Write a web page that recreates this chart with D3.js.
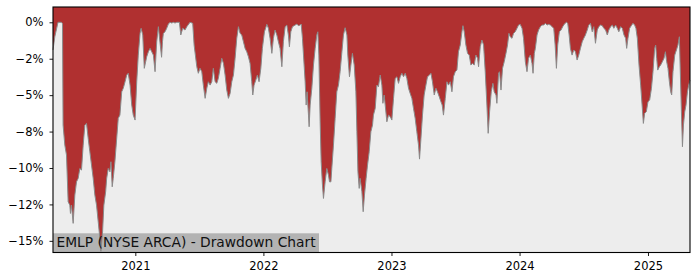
<!DOCTYPE html>
<html>
<head>
<meta charset="utf-8">
<script src="https://cdn.jsdelivr.net/npm/d3@7"></script>
<style>
	body { margin: 0; background: #fff; }
	svg { display: block; font-family: "DejaVu Sans", sans-serif; }
</style>
</head>
<body>
<div id="chart"></div>
<script>
// drawdown in percent, dates as decimal years
var dateYears = [
	2020.359, 2020.373, 2020.398, 2020.425, 2020.433, 2020.4375, 2020.451, 2020.464, 2020.477, 2020.490,
	2020.495, 2020.503, 2020.516, 2020.529, 2020.542, 2020.555, 2020.568, 2020.581, 2020.594, 2020.607,
	2020.620, 2020.633, 2020.646, 2020.659, 2020.672, 2020.685, 2020.698, 2020.711, 2020.724, 2020.732,
	2020.745, 2020.755, 2020.769, 2020.777, 2020.789, 2020.802, 2020.810, 2020.820, 2020.828, 2020.841,
	2020.855, 2020.867, 2020.880, 2020.894, 2020.906, 2020.920, 2020.933, 2020.945, 2020.959, 2020.972,
	2020.984, 2020.998, 2021.011, 2021.023, 2021.037, 2021.045, 2021.058, 2021.070, 2021.089, 2021.102,
	2021.115, 2021.128, 2021.141, 2021.154, 2021.167, 2021.180, 2021.188, 2021.205, 2021.212, 2021.219,
	2021.232, 2021.245, 2021.258, 2021.271, 2021.284, 2021.297, 2021.310, 2021.323, 2021.344, 2021.355,
	2021.370, 2021.388, 2021.402, 2021.427, 2021.448, 2021.459, 2021.480, 2021.492, 2021.505, 2021.519,
	2021.531, 2021.545, 2021.558, 2021.570, 2021.584, 2021.597,
	2021.609, 2021.623, 2021.636, 2021.648, 2021.662, 2021.675, 2021.688, 2021.701, 2021.714, 2021.727,
	2021.740, 2021.753, 2021.766, 2021.779, 2021.792, 2021.805, 2021.818, 2021.831, 2021.844, 2021.857,
	2021.870, 2021.883, 2021.896, 2021.909, 2021.917, 2021.927, 2021.941, 2021.953, 2021.966, 2021.980,
	2021.992, 2022.008, 2022.027, 2022.039, 2022.052, 2022.066, 2022.078, 2022.091, 2022.105, 2022.117,
	2022.130, 2022.144, 2022.156, 2022.170, 2022.183, 2022.195, 2022.203, 2022.214, 2022.227, 2022.248,
	2022.261, 2022.273, 2022.287, 2022.295, 2022.305, 2022.313, 2022.326, 2022.334, 2022.341, 2022.352,
	2022.357, 2022.365, 2022.378, 2022.391, 2022.404, 2022.417, 2022.425, 2022.433, 2022.443, 2022.451,
	2022.461, 2022.469, 2022.482, 2022.495, 2022.508, 2022.516, 2022.527, 2022.534, 2022.547, 2022.560,
	2022.573, 2022.586, 2022.599, 2022.613, 2022.625, 2022.638, 2022.652, 2022.659, 2022.672, 2022.683,
	2022.695, 2022.709, 2022.722, 2022.730, 2022.738, 2022.748, 2022.755, 2022.769, 2022.779, 2022.789,
	2022.802, 2022.813, 2022.826, 2022.839, 2022.852, 2022.859, 2022.873,
	2022.886, 2022.898, 2022.912, 2022.925, 2022.933, 2022.943, 2022.951, 2022.964, 2022.977, 2022.990,
	2023.003, 2023.016, 2023.029, 2023.042, 2023.055, 2023.068, 2023.081, 2023.094, 2023.107, 2023.120,
	2023.133, 2023.146, 2023.159, 2023.172, 2023.185, 2023.198, 2023.211, 2023.219, 2023.230, 2023.242,
	2023.255, 2023.269, 2023.281, 2023.297, 2023.308, 2023.320, 2023.334, 2023.347, 2023.359, 2023.373,
	2023.386, 2023.396, 2023.406, 2023.420, 2023.433, 2023.445, 2023.459, 2023.472, 2023.484, 2023.498,
	2023.511, 2023.523, 2023.537, 2023.550, 2023.558, 2023.568, 2023.581, 2023.594, 2023.607, 2023.620,
	2023.633, 2023.646, 2023.659, 2023.672, 2023.680, 2023.693, 2023.706, 2023.719, 2023.732, 2023.745,
	2023.755, 2023.766, 2023.779, 2023.792, 2023.802, 2023.816, 2023.823, 2023.836, 2023.844, 2023.855,
	2023.867, 2023.880, 2023.894, 2023.906, 2023.917, 2023.927, 2023.941, 2023.953, 2023.966, 2023.980,
	2023.992, 2024.005, 2024.019, 2024.031, 2024.045, 2024.058, 2024.070, 2024.084, 2024.097, 2024.105,
	2024.115,
	2024.123, 2024.136, 2024.148, 2024.162, 2024.175, 2024.188, 2024.201, 2024.214, 2024.227, 2024.240,
	2024.253, 2024.266, 2024.277, 2024.287, 2024.297, 2024.310, 2024.323, 2024.336, 2024.349, 2024.365,
	2024.375, 2024.386, 2024.396, 2024.409, 2024.422, 2024.435, 2024.448, 2024.461, 2024.474, 2024.488,
	2024.500, 2024.513, 2024.527, 2024.539, 2024.552, 2024.566, 2024.578, 2024.591, 2024.605, 2024.617,
	2024.630, 2024.644, 2024.656, 2024.670, 2024.683, 2024.695, 2024.709, 2024.722, 2024.734, 2024.748,
	2024.761, 2024.773, 2024.787, 2024.800, 2024.813, 2024.826, 2024.834, 2024.844, 2024.857, 2024.870,
	2024.883, 2024.896, 2024.906, 2024.917, 2024.930, 2024.943, 2024.956, 2024.964, 2024.974, 2024.987,
	2025.000, 2025.013, 2025.027, 2025.039, 2025.052, 2025.060, 2025.068, 2025.076, 2025.089, 2025.099,
	2025.112, 2025.125, 2025.136, 2025.146, 2025.156, 2025.167, 2025.177, 2025.185, 2025.195, 2025.209,
	2025.222, 2025.234, 2025.245, 2025.253, 2025.261, 2025.269, 2025.277, 2025.287, 2025.297, 2025.308,
	2025.318, 2025.328
]

var drawdown = [
	-1.90, -0.99, 0, 0, -0.10, -7.05, -8.43, -9.11, -12.32, -12.55,
	-13.12, -12.55, -13.80, -11.86, -10.95, -10.71, -10.03, -10.14, -8.43, -7.05,
	-6.94, -7.97, -8.89, -9.80, -10.71, -11.86, -12.55, -13.69, -14.84, -15.72,
	-14.38, -12.55, -11.63, -10.71, -10.03, -10.26, -9.57, -11.29, -10.71, -9.57,
	-7.97, -6.59, -6.37, -4.77, -4.53, -4.08, -3.62, -3.50, -4.31, -5.68,
	-6.37, -6.71, -4.08, -2.25, -0.76, -0.41, -0.87, -3.16, -2.36, -2.02,
	-1.79, -2.02, -2.25, -3.39, -1.33, -0.30, -0.99, -2.40, -1.33, -0.76,
	-0.65, -0.41, -0.12, 0, -0.05, 0, -0.05, 0, 0, -0.87,
	-0.41, -0.53, -0.30, 0, -0.07, -1.56, -3.05, -3.50, -3.16, -3.39,
	-4.31, -5.22, -4.53, -4.08, -4.31, -4.08,
	-3.16, -4.08, -4.19, -3.85, -3.16, -2.47, -2.82, -3.62, -4.65, -5.22,
	-4.88, -4.08, -3.62, -2.47, -1.10, -0.30, -0.76, -0.87, -1.33, -1.79,
	-2.02, -2.36, -2.82, -4.08, -4.99, -4.31, -3.96, -3.62, -4.08, -3.16,
	-1.79, -0.65, -0.14, -0.41, -1.10, -2.13, -1.10, -0.53, -0.87, -1.33,
	-1.79, -3.05, -1.33, -0.30, -0.19, -0.87, -1.68, -0.65, -0.30, -0.19,
	-0.12, -0.23, -0.19, -0.12, -1.10, -2.25, -4.08, -5.68, -4.77, -6.37,
	-7.17, -5.68, -4.53, -2.93, -1.79, -0.87, -0.65, -2.25, -6.83, -9.57,
	-11.17, -12.09, -10.95, -10.03, -10.49, -10.95, -10.95, -10.03, -8.43, -6.59,
	-4.77, -4.31, -3.39, -2.02, -0.87, -0.37, -0.87, -2.25, -3.74, -2.93,
	-2.13, -2.93, -4.77, -7.51, -10.26, -11.40, -10.71, -11.63, -13.00, -11.86,
	-10.71, -9.80, -8.89, -7.51, -7.05, -6.37, -5.91,
	-4.31, -4.42, -3.62, -4.31, -5.56, -4.99, -5.68, -6.83, -6.37, -6.48,
	-6.71, -5.22, -3.85, -3.74, -4.19, -3.74, -3.50, -3.74, -3.50, -3.85,
	-4.53, -4.88, -5.22, -5.91, -6.59, -7.51, -8.43, -9.39, -7.97, -6.37,
	-4.99, -4.31, -3.74, -3.62, -3.50, -4.08, -4.99, -4.53, -4.77, -5.11,
	-5.45, -5.68, -6.37, -5.22, -4.08, -4.31, -4.08, -4.77, -3.74, -3.39,
	-3.28, -2.02, -1.56, -0.65, -0.23, -0.65, -1.56, -2.13, -2.25, -2.93,
	-2.82, -2.93, -2.25, -2.47, -3.05, -1.68, -1.22, -1.56, -3.39, -5.68,
	-7.62, -6.14, -4.77, -4.19, -4.77, -4.99, -5.56, -3.50, -3.39, -4.65,
	-3.16, -2.71, -2.13, -1.56, -0.76, -0.99, -1.10, -0.76, -0.65, -0.41,
	-0.19, -0.14, -0.41, -1.10, -2.71, -3.39, -2.47, -2.25, -2.82, -3.50,
	-2.13,
	-1.79, -0.87, -0.53, -0.30, -0.19, -0.19, -0.07, -0.19, -0.14, -0.19,
	-0.30, -0.41, -1.56, -3.16, -1.56, -0.65, -0.53, -0.30, -0.12, 0,
	-0.07, -0.87, -1.79, -2.25, -1.90, -2.02, -2.59, -2.25, -1.79, -1.33,
	-1.10, -0.87, -0.53, -0.19, -0.07, -0.65, -0.30, -1.44, -0.53, -0.30,
	-0.19, -0.23, -0.41, -0.53, -0.87, -0.53, -0.30, -0.19, -0.41, -0.19,
	-0.41, -0.65, -0.30, -0.41, -0.87, -1.10, -1.79, -1.10, -0.41, -0.23,
	-0.07, -0.19, -0.41, -1.10, -2.93, -4.31, -5.91, -6.94, -6.25, -6.14,
	-5.45, -5.34, -4.53, -3.39, -1.79, -1.56, -2.47, -3.28, -3.05, -2.93,
	-2.71, -2.47, -2.02, -2.71, -3.16, -4.08, -4.77, -4.99, -3.39, -2.25,
	-1.90, -1.56, -0.99, -3.62, -6.14, -8.54, -7.05, -6.14, -5.68, -4.77,
	-4.31, -3.96
]

var yTickValues = [0, -2.5, -5, -7.5, -10, -12.5, -15]
var yTickLabels = ["0%", "\u22122%", "\u22125%", "\u22128%", "\u221210%", "\u221212%", "\u221215%"]
var yLimits = [-15.8, 1.05]
var chartTitle = "EMLP (NYSE ARCA) - Drawdown Chart"

run()

function yearToDate(y) {
	var yr = Math.floor(y)
	var start = new Date(yr, 0, 1)
	var end = new Date(yr + 1, 0, 1)
	return new Date(+start + (y - yr) * (end - start))
}

function run() {
	var w = 700
	var h = 280
	var b = { left: 53, right: 690, top: 7, bottom: 252.5 }

	var data = dateYears.map((y, i) => ({ date: yearToDate(y), dd: drawdown[i] }))

	var svg = d3.select("#chart")
		.append("svg")
		.attr("width", w)
		.attr("height", h)

	var x = d3.scaleTime()
		.domain(d3.extent(data, d => d.date))
		.range([b.left, b.right])

	var y = d3.scaleLinear()
		.domain(yLimits)
		.range([b.bottom, b.top])

	// plot background
	svg.append("rect")
		.attr("x", b.left)
		.attr("y", b.top)
		.attr("width", b.right - b.left)
		.attr("height", b.bottom - b.top)
		.attr("fill", "#ededed")

	// title box sits under the fill, text on top
	svg.append("rect")
		.attr("x", b.left)
		.attr("y", 233.3)
		.attr("width", 266)
		.attr("height", b.bottom - 233.3)
		.attr("fill", "#b3b3b3")

	// red fill between the curve and the top of the axes
	var area = d3.area()
		.x(d => x(d.date))
		.y0(y(yLimits[1]))
		.y1(d => y(d.dd))

	svg.append("path")
		.datum(data)
		.attr("d", area)
		.attr("fill", "#b03030")

	var line = d3.line()
		.x(d => x(d.date))
		.y(d => y(d.dd))

	svg.append("path")
		.datum(data)
		.attr("d", line)
		.attr("fill", "none")
		.attr("stroke", "#8a8a8a")
		.attr("stroke-width", 1)

	svg.append("text")
		.attr("x", 56.5)
		.attr("y", 246.7)
		.style("font-size", "13.8px")
		.style("fill", "#111")
		.text(chartTitle)

	// axes
	var yAxis = d3.axisLeft(y)
		.tickValues(yTickValues)
		.tickSize(3.5)
		.tickPadding(6)
		.tickFormat((d, i) => yTickLabels[i])

	var xAxis = d3.axisBottom(x)
		.ticks(d3.timeYear.every(1))
		.tickSize(3.5)
		.tickPadding(6)
		.tickFormat(d3.timeFormat("%Y"))

	var gy = svg.append("g")
		.attr("transform", "translate(" + b.left + ",0)")
		.call(yAxis)

	var gx = svg.append("g")
		.attr("transform", "translate(0," + b.bottom + ")")
		.call(xAxis)

	;[gx, gy].forEach(g => {
		g.select(".domain").remove()
		g.selectAll("text")
			.style("font-family", "DejaVu Sans")
			.style("font-size", "11.5px")
			.style("fill", "#000")
		g.selectAll("line").attr("stroke", "#000").attr("stroke-width", 0.9)
	})

	// spines
	svg.append("rect")
		.attr("x", b.left)
		.attr("y", b.top)
		.attr("width", b.right - b.left)
		.attr("height", b.bottom - b.top)
		.attr("fill", "none")
		.attr("stroke", "#000")
		.attr("stroke-width", 1.1)
}
</script>
</body>
</html>
